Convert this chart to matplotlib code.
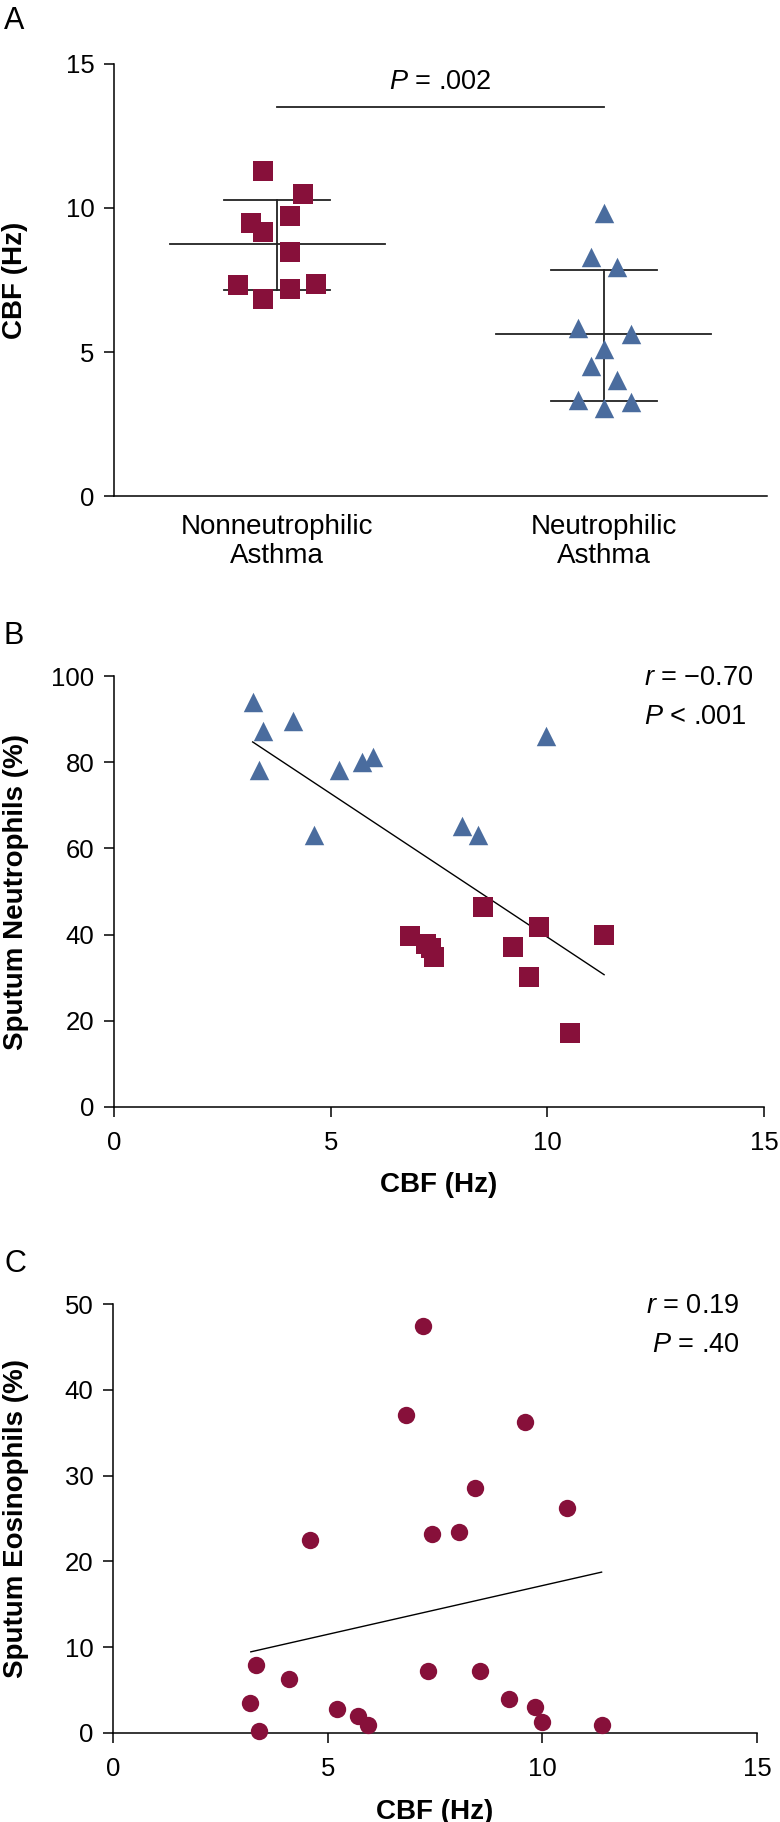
import numpy as np
import matplotlib.pyplot as plt

plt.rcParams['font.family'] = ['Liberation Sans', 'DejaVu Sans']
plt.rcParams['mathtext.fontset'] = 'custom'
plt.rcParams['mathtext.it'] = 'Liberation Sans:italic'
plt.rcParams['mathtext.rm'] = 'Liberation Sans'

MAROON = '#87103a'
BLUE = '#4a6c9e'

# ---- panel A: CBF per group
group_labels = ['Nonneutrophilic\nAsthma', 'Neutrophilic\nAsthma']
cbf_nonneut = [11.29, 10.49, 9.72, 9.48, 9.15, 8.48, 7.32, 7.35, 7.19, 6.84]
jitter_nonneut = [-0.043, 0.080, 0.040, -0.080, -0.043, 0.040, -0.120, 0.118, 0.040, -0.043]
cbf_neut = [9.84, 8.31, 7.95, 5.85, 5.64, 5.10, 4.51, 4.03, 3.34, 3.27, 3.07]
jitter_neut = [0.0, -0.038, 0.042, -0.078, 0.083, 0.0, -0.038, 0.042, -0.078, 0.083, 0.0]
group_mean = [8.75, 5.61]
group_upper = [10.28, 7.85]
group_lower = [7.15, 3.30]
sig_level = 13.52
sig_text = '$\\it{P}$ = .002'

# ---- panel B: neutrophils vs CBF
neut_cbf = [3.20, 3.43, 3.34, 4.12, 4.61, 5.20, 5.72, 5.97, 8.02, 8.40, 9.96]
neut_pct = [93.9, 87.3, 78.1, 89.6, 63.1, 78.1, 80.1, 81.3, 65.3, 63.1, 86.1]
nonneut_cbf = [8.52, 6.83, 7.20, 7.32, 7.39, 9.20, 9.81, 9.58, 10.52, 11.31]
nonneut_pct = [46.3, 39.7, 37.9, 36.8, 34.9, 37.1, 41.7, 30.1, 17.2, 39.9]
fit_b_x = [3.20, 11.31]
fit_b_y = [84.7, 30.7]
stats_b = ['$\\it{r}$ = \u22120.70', '$\\it{P}$ < .001']

# ---- panel C: eosinophils vs CBF
eos_cbf = [7.23, 6.83, 9.60, 8.43, 10.57, 4.60, 7.42, 8.05, 3.33, 4.11, 7.33,
           8.55, 3.18, 5.21, 5.71, 5.94, 3.40, 9.23, 9.83, 10.00, 11.38]
eos_pct = [47.46, 37.1, 36.2, 28.5, 26.2, 22.5, 23.2, 23.4, 7.95, 6.3, 7.19,
           7.19, 3.48, 2.77, 2.0, 0.98, 0.27, 4.02, 2.99, 1.25, 0.98]
fit_c_x = [3.21, 11.38]
fit_c_y = [9.46, 18.75]
stats_c = ['$\\it{r}$ = 0.19', '$\\it{P}$ = .40']

W, H = 780, 1822
fig = plt.figure(figsize=(W / 100, H / 100), dpi=100)


def px_axes(left, right, top, bottom):
    return fig.add_axes([left / W, 1 - bottom / H, (right - left) / W, (bottom - top) / H])


def style(ax):
    for s in ['top', 'right']:
        ax.spines[s].set_visible(False)
    for s in ['left', 'bottom']:
        ax.spines[s].set_linewidth(1.1)
    ax.tick_params(axis='both', direction='out', length=7, width=1.1,
                   labelsize=18.5, pad=7)
    ax.tick_params(axis='x', pad=10)


# A
axA = px_axes(114, 767, 64, 496)
style(axA)
axA.set_xlim(0.5, 2.5)
axA.set_ylim(0, 15)
axA.set_yticks([0, 5, 10, 15])
axA.set_xticks([1, 2])
axA.set_xticklabels(group_labels, fontsize=20, linespacing=1.15)
axA.tick_params(axis='x', length=0, pad=13)
for i in range(2):
    c = i + 1
    axA.plot([c - 0.33, c + 0.33], [group_mean[i]] * 2, color='#222222', lw=1.3, zorder=2)
    axA.plot([c, c], [group_lower[i], group_upper[i]], color='#222222', lw=1.3, zorder=2)
    for v in (group_lower[i], group_upper[i]):
        axA.plot([c - 0.163, c + 0.163], [v, v], color='#222222', lw=1.3, zorder=2)
axA.scatter(1 + np.array(jitter_nonneut), cbf_nonneut, marker='s', s=14.2 ** 2,
            color=MAROON, linewidths=0, zorder=3, clip_on=False)
axA.scatter(2 + np.array(jitter_neut), cbf_neut, marker='^', s=14 ** 2,
            color=BLUE, linewidths=0, zorder=3, clip_on=False)
axA.plot([1, 2], [sig_level, sig_level], color='#222222', lw=1.3)
axA.text(1.5, 14.13, sig_text, ha='center', va='baseline', fontsize=19.5)
axA.set_ylabel('CBF (Hz)', fontsize=20, fontweight='bold')
axA.yaxis.set_label_coords(-0.131, 0.5)

# B
axB = px_axes(114, 764, 676, 1107)
style(axB)
axB.set_xlim(0, 15)
axB.set_ylim(0, 100)
axB.set_xticks([0, 5, 10, 15])
axB.set_yticks(np.arange(0, 101, 20))
axB.plot(fit_b_x, fit_b_y, color='black', lw=1.0, zorder=2)
axB.scatter(neut_cbf, neut_pct, marker='^', s=14 ** 2, color=BLUE, linewidths=0,
            zorder=3, clip_on=False)
axB.scatter(nonneut_cbf, nonneut_pct, marker='s', s=14.2 ** 2, color=MAROON,
            linewidths=0, zorder=3, clip_on=False)
axB.text(0.815, 0.979, stats_b[0], transform=axB.transAxes, ha='left', va='baseline', fontsize=19.5)
axB.text(0.815, 0.888, stats_b[1], transform=axB.transAxes, ha='left', va='baseline', fontsize=19.5)
axB.set_xlabel('CBF (Hz)', fontsize=20, fontweight='bold')
axB.xaxis.set_label_coords(0.5, -0.151)
axB.set_ylabel('Sputum Neutrophils (%)', fontsize=20, fontweight='bold')
axB.yaxis.set_label_coords(-0.131, 0.5)

# C
axC = px_axes(113, 757, 1304, 1733)
style(axC)
axC.set_xlim(0, 15)
axC.set_ylim(0, 50)
axC.set_xticks([0, 5, 10, 15])
axC.set_yticks(np.arange(0, 51, 10))
axC.plot(fit_c_x, fit_c_y, color='black', lw=1.0, zorder=2)
axC.scatter(eos_cbf, eos_pct, marker='o', s=12.5 ** 2, color=MAROON, linewidths=0,
            zorder=3, clip_on=False)
axC.text(0.9725, 0.980, stats_c[0], transform=axC.transAxes, ha='right', va='baseline', fontsize=19.5)
axC.text(0.9725, 0.888, stats_c[1], transform=axC.transAxes, ha='right', va='baseline', fontsize=19.5)
axC.set_xlabel('CBF (Hz)', fontsize=20, fontweight='bold')
axC.xaxis.set_label_coords(0.5, -0.154)
axC.set_ylabel('Sputum Eosinophils (%)', fontsize=20, fontweight='bold')
axC.yaxis.set_label_coords(-0.131, 0.5)

# panel letters
for letter, base in [('A', 29), ('B', 644.5), ('C', 1272)]:
    fig.text(4 / W, 1 - base / H, letter, ha='left', va='baseline', fontsize=22)

fig.savefig('out.png', dpi=100)
